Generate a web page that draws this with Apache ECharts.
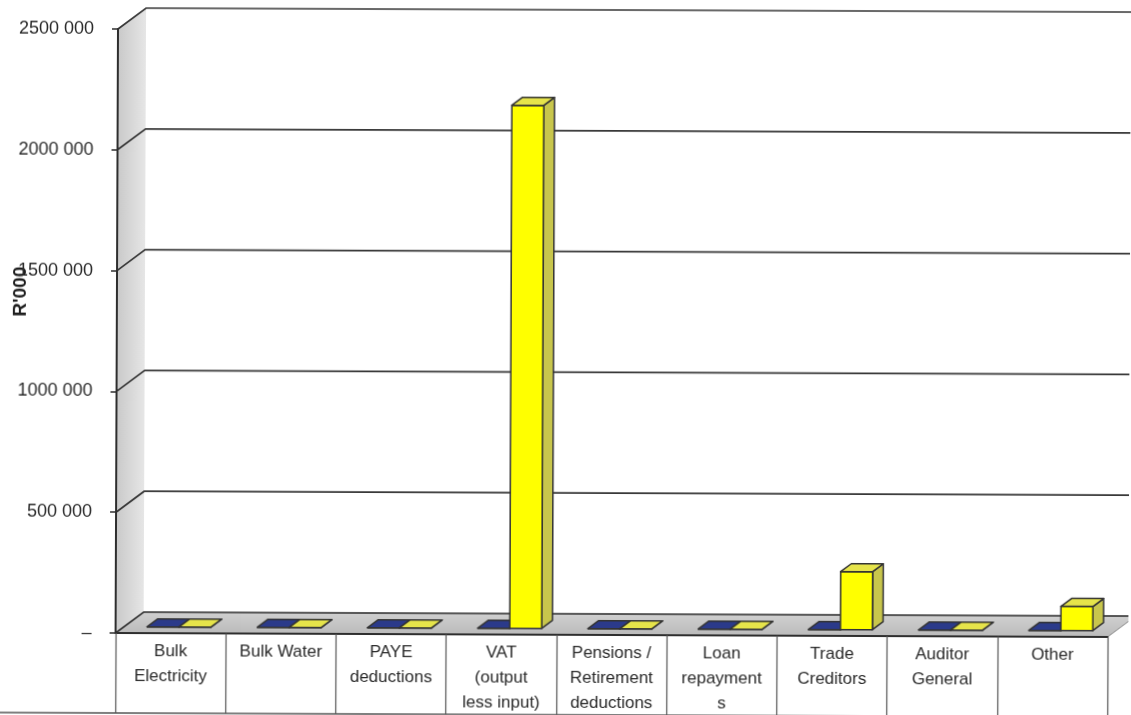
<!DOCTYPE html>
<html>
<head>
<meta charset="utf-8">
<title>R'000</title>
<script src="https://cdn.jsdelivr.net/npm/echarts/dist/echarts.min.js"></script>
<style>
  html, body { margin: 0; padding: 0; background: #ffffff; overflow: hidden; }
  #chart { width: 1131px; height: 715px; transform: rotate(0.23deg); transform-origin: 118px 29px; }
</style>
</head>
<body>
<div id="chart"></div>
<script>
// Category names and their wrapped labels for the table row under the floor
const categories = ['Bulk Electricity', 'Bulk Water', 'PAYE deductions', 'VAT (output less input)',
  'Pensions / Retirement deductions', 'Loan repayments', 'Trade Creditors', 'Auditor General', 'Other'];
const categoryLabels = ['Bulk\nElectricity', 'Bulk Water', 'PAYE\ndeductions', 'VAT\n(output\nless input)',
  'Pensions /\nRetirement\ndeductions', 'Loan\nrepayment\ns', 'Trade\nCreditors', 'Auditor\nGeneral', 'Other'];

// Amounts in R'000
const blueValues = [0, 0, 0, 0, 0, 0, 0, 0, 0];
const yellowValues = [0, 0, 0, 2165000, 0, 0, 240000, 0, 100000];

// Value axis ticks
const yTicks = [0, 500000, 1000000, 1500000, 2000000, 2500000];

// Pseudo-3D geometry (pixels / fractions of the wall depth)
const DEPTH = { x: 28, y: -21 };
const BAR_FRAC = 0.29;
const F0 = 0.30, F1 = 0.68;
const EDGE = '#333333';

function formatTick(v) {
  if (v === 0) return '\u2013';
  const th = Math.floor(v / 1000);
  return th + ' ' + String(v % 1000).padStart(3, '0');
}

function plotEdges(api) {
  const bw = api.size([1, 0])[0];
  const first = api.coord([0, 0]);
  const last = api.coord([categories.length - 1, 0]);
  const top = api.coord([0, yTicks[yTicks.length - 1]]);
  return { left: first[0] - bw / 2, right: last[0] + bw / 2, y0: first[1], yTop: top[1] };
}

// Left wall and floor
function renderWalls(params, api) {
  const e = plotEdges(api);
  const dx = DEPTH.x, dy = DEPTH.y;
  return {
    type: 'group',
    children: [
      {
        type: 'polygon',
        shape: { points: [[e.left, e.y0], [e.left + dx, e.y0 + dy], [e.left + dx, e.yTop + dy], [e.left, e.yTop]] },
        style: {
          fill: new echarts.graphic.LinearGradient(0, 0, 1, 0, [
            { offset: 0, color: '#c9c9c9' }, { offset: 1, color: '#e6e6e6' }
          ])
        }
      },
      {
        type: 'polygon',
        shape: { points: [[e.left, e.y0], [e.right, e.y0], [e.right + dx, e.y0 + dy], [e.left + dx, e.y0 + dy]] },
        style: {
          fill: new echarts.graphic.LinearGradient(0, 0, 0, 1, [
            { offset: 0, color: '#d0d0d0' }, { offset: 1, color: '#bababa' }
          ]),
          stroke: '#8a8a8a', lineWidth: 1
        }
      }
    ]
  };
}

// Gridlines: diagonal across the left wall, then along the back wall
function renderGrid(params, api) {
  const e = plotEdges(api);
  const v = api.value(1);
  const y = api.coord([0, v])[1];
  const dx = DEPTH.x, dy = DEPTH.y;
  return {
    type: 'polyline',
    shape: { points: [[e.left, y], [e.left + dx, y + dy], [e.right + dx, y + dy]] },
    style: { fill: null, stroke: '#383838', lineWidth: 1.7 }
  };
}

function makeBarRenderer(slot, colors) {
  return function (params, api) {
    const cat = api.value(0);
    const val = api.value(1);
    const base = api.coord([cat, 0]);
    const top = api.coord([cat, val]);
    const bw = api.size([1, 0])[0];
    const w = bw * BAR_FRAC;
    const x0 = base[0] + (slot - 1) * w;
    const x1 = x0 + w;
    const fx = DEPTH.x * F0, fy = DEPTH.y * F0;
    const bx = DEPTH.x * F1, by = DEPTH.y * F1;
    const yb = base[1], yt = top[1];
    const st = { stroke: EDGE, lineWidth: 1.5, lineJoin: 'round' };
    return {
      type: 'group',
      children: [
        {
          type: 'polygon',
          shape: { points: [[x1 + fx, yt + fy], [x1 + bx, yt + by], [x1 + bx, yb + by], [x1 + fx, yb + fy]] },
          style: Object.assign({ fill: colors.side }, st)
        },
        {
          type: 'polygon',
          shape: { points: [[x0 + fx, yb + fy], [x1 + fx, yb + fy], [x1 + fx, yt + fy], [x0 + fx, yt + fy]] },
          style: Object.assign({ fill: colors.front }, st)
        },
        {
          type: 'polygon',
          shape: { points: [[x0 + fx, yt + fy], [x1 + fx, yt + fy], [x1 + bx, yt + by], [x0 + bx, yt + by]] },
          style: Object.assign({ fill: colors.top }, st)
        }
      ]
    };
  };
}

const chart = echarts.init(document.getElementById('chart'), null, { renderer: 'canvas' });

const option = {
  animation: false,
  backgroundColor: '#ffffff',
  textStyle: { fontFamily: 'Liberation Sans, Arial, sans-serif' },
  grid: { left: 118, top: 29, width: 992, height: 604, containLabel: false },
  xAxis: {
    type: 'category',
    data: categoryLabels,
    boundaryGap: true,
    z: 10,
    axisLine: { show: true, lineStyle: { color: '#2e2e2e', width: 2 } },
    axisTick: { show: true, interval: 0, length: 80, lineStyle: { color: '#555555', width: 1.2 } },
    axisLabel: {
      interval: 0, margin: 6, fontSize: 17, lineHeight: 25, color: '#2a2a2a',
      fontFamily: 'Liberation Sans, Arial, sans-serif'
    },
    splitLine: { show: false }
  },
  yAxis: {
    type: 'value',
    min: 0,
    max: 2500000,
    interval: 500000,
    z: 10,
    axisLine: { show: true, lineStyle: { color: '#2e2e2e', width: 2 } },
    axisTick: { show: true, length: 6, lineStyle: { color: '#2e2e2e', width: 1.5 } },
    axisLabel: {
      margin: 24, fontSize: 18, color: '#2a2a2a', formatter: formatTick,
      fontFamily: 'Liberation Sans, Arial, sans-serif'
    },
    splitLine: { show: false }
  },
  graphic: [
    {
      type: 'text',
      x: 22, y: 292,
      rotation: Math.PI / 2,
      style: {
        text: "R'000", font: 'bold 19px Liberation Sans, Arial, sans-serif', fill: '#1e1e1e',
        align: 'center', verticalAlign: 'middle'
      }
    },
    {
      type: 'line',
      shape: { x1: 0, y1: 713, x2: 1131, y2: 713 },
      style: { stroke: '#555555', lineWidth: 1.4 }
    }
  ],
  series: [
    {
      type: 'custom', name: 'walls', z: 1, silent: true,
      renderItem: renderWalls,
      data: [[0, 0]]
    },
    {
      type: 'custom', name: 'gridlines', z: 2, silent: true,
      renderItem: renderGrid,
      data: yTicks.map(v => [0, v])
    },
    {
      type: 'custom', name: 'blue', z: 3,
      renderItem: makeBarRenderer(0, { front: '#2f3f93', top: '#2b3a8a', side: '#25336f' }),
      data: blueValues.map((v, i) => [i, v])
    },
    {
      type: 'custom', name: 'yellow', z: 4,
      renderItem: makeBarRenderer(1, { front: '#ffff00', top: '#e6e44a', side: '#c8c64c' }),
      data: yellowValues.map((v, i) => [i, v])
    }
  ]
};

chart.setOption(option);
</script>
</body>
</html>
